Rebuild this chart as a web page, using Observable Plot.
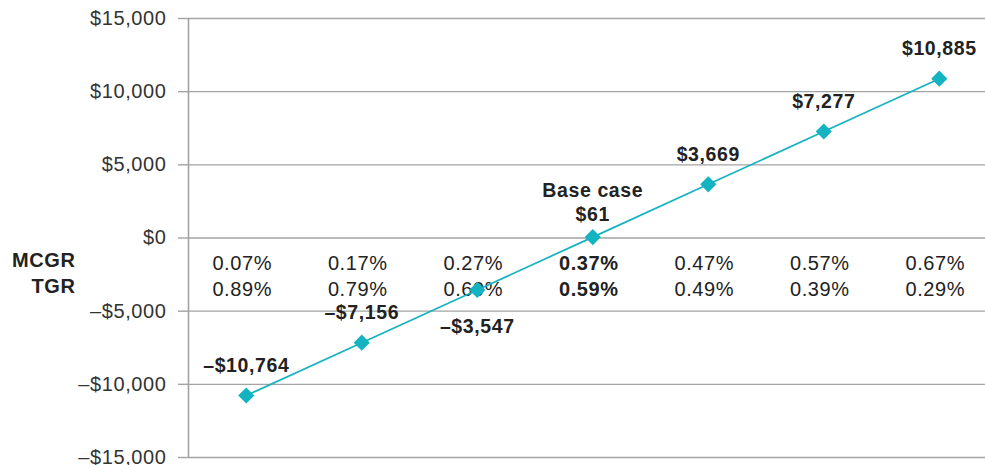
<!DOCTYPE html>
<html>
<head>
<meta charset="utf-8">
<script src="https://cdn.jsdelivr.net/npm/d3@7"></script>
<script src="https://cdn.jsdelivr.net/npm/@observablehq/plot@0.6"></script>
<style>
  html, body { margin: 0; padding: 0; background: #fff; }
</style>
</head>
<body>
<div id="chart"></div>
<script>
// ---- data ----
const mcgr = [0.07, 0.17, 0.27, 0.37, 0.47, 0.57, 0.67];
const tgr = [0.89, 0.79, 0.69, 0.59, 0.49, 0.39, 0.29];
const values = [-10764, -7156, -3547, 61, 3669, 7277, 10885];
const yTicks = [-15000, -10000, -5000, 0, 5000, 10000, 15000];
const rowLabels = ["MCGR", "TGR"];
const baseCaseLabel = "Base case";
const baseIndex = 3;
const belowIndex = 2;

// ---- config ----
const xDomain = [-0.5, 6.4];
const teal = "#14b3c1";
const grid = "#a3a3a3";
const ink = "#222222";
const font = "'Liberation Sans', Arial, sans-serif";

const money = v => (v < 0 ? "\u2013" : "") + "$" + d3.format(",")(Math.abs(v));
const pct = v => v.toFixed(2) + "%";

const data = values.map((v, i) => ({i, v, mcgr: mcgr[i], tgr: tgr[i]}));

const chart = Plot.plot({
  width: 985,
  height: 465,
  marginLeft: 188,
  marginRight: 0,
  marginTop: 18,
  marginBottom: 8,
  style: {fontFamily: font, background: "#fff", color: ink},
  x: {domain: xDomain, axis: null},
  y: {domain: [-15000, 15000], axis: null},
  marks: [
    Plot.gridY(yTicks, {stroke: grid, strokeOpacity: 1, strokeWidth: 1.4}),
    Plot.axisY(yTicks, {label: null, tickSize: 10, tickPadding: 12, tickFormat: money, stroke: grid, strokeWidth: 1.4, fill: "#333", fontSize: 20}),
    Plot.ruleX([xDomain[0]], {stroke: grid, strokeWidth: 1.6}),
    // percent rows
    Plot.text(data.filter(d => d.i !== baseIndex), {
      x: "i", y: 0, text: d => pct(d.mcgr) + "\n" + pct(d.tgr),
      dx: -4, dy: 37, lineAnchor: "middle", lineHeight: 1.28, fontSize: 20, fill: ink
    }),
    Plot.text(data.filter(d => d.i === baseIndex), {
      x: "i", y: 0, text: d => pct(d.mcgr) + "\n" + pct(d.tgr),
      dx: -4, dy: 37, lineAnchor: "middle", lineHeight: 1.28, fontSize: 20, fontWeight: "bold", fill: ink
    }),
    // row labels
    Plot.text([rowLabels.join("\n")], {
      x: xDomain[0], y: 0, text: d => d, textAnchor: "end",
      dx: -113, dy: 33.5, lineAnchor: "middle", lineHeight: 1.32, fontSize: 20, fontWeight: "bold", fill: ink
    }),
    // line + points
    Plot.line(data, {x: "i", y: "v", stroke: teal, strokeWidth: 1.7}),
    Plot.dot(data, {x: "i", y: "v", symbol: "diamond2", r: 7.3, fill: teal, stroke: "none"}),
    // value labels
    Plot.text(data.filter(d => d.i !== baseIndex && d.i !== belowIndex), {
      x: "i", y: "v", text: d => money(d.v), dy: -30, lineAnchor: "middle",
      fontSize: 19.5, fontWeight: "bold", fill: ink
    }),
    Plot.text(data.filter(d => d.i === belowIndex), {
      x: "i", y: "v", text: d => money(d.v), dy: 37, lineAnchor: "middle",
      fontSize: 19.5, fontWeight: "bold", fill: ink
    }),
    Plot.text(data.filter(d => d.i === baseIndex), {
      x: "i", y: "v", text: d => baseCaseLabel + "\n" + money(d.v), dy: -36, lineAnchor: "middle",
      lineHeight: 1.22, fontSize: 19.5, fontWeight: "bold", fill: ink
    })
  ]
});
chart.style.letterSpacing = "0.6px";
document.getElementById("chart").appendChild(chart);
</script>
</body>
</html>
